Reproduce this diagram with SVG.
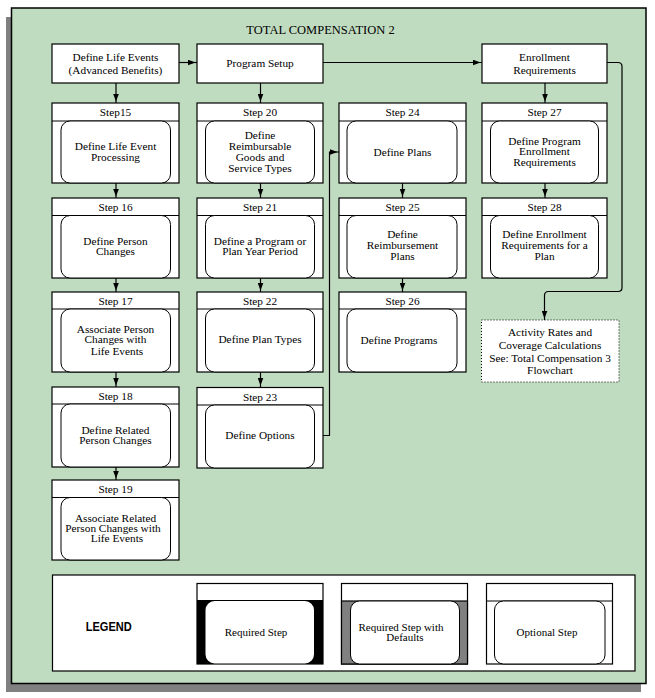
<svg xmlns="http://www.w3.org/2000/svg" width="655" height="698" viewBox="0 0 655 698">
<defs>
<style>
.box{fill:#fff;stroke:#000;stroke-width:1.2}
.inner{fill:#fff;stroke:#000;stroke-width:1}
.t{font-family:'Liberation Serif','Times New Roman',serif;font-size:11.3px;text-anchor:middle;fill:#000}
.lt{font-family:'Liberation Serif','Times New Roman',serif;font-size:11px;text-anchor:middle;fill:#000}
.conn{fill:none;stroke:#000;stroke-width:1.2}
</style>
<marker id="ah" viewBox="0 0 8 6" refX="9.5" refY="3" markerWidth="8" markerHeight="6" markerUnits="userSpaceOnUse" orient="auto">
<path d="M0,0 L8,3 L0,6 z" fill="#000"/>
</marker>
</defs>

<!-- frame -->
<rect x="6" y="17" width="635" height="675" fill="#808080"/>
<rect x="11.5" y="8" width="634.5" height="675.5" fill="#C0DCC0" stroke="#000" stroke-width="1.5"/>
<text x="320.5" y="34" font-family="Liberation Serif, serif" font-size="12.5px" text-anchor="middle">TOTAL COMPENSATION 2</text>

<!-- connectors -->
<g id="connectors" class="conn" marker-end="url(#ah)">
<path d="M179,62.5 H197"/>
<path d="M323,62.5 H482"/>
<path d="M116,83 V103"/>
<path d="M116,183 V198"/>
<path d="M116,278 V292"/>
<path d="M116,372 V387"/>
<path d="M116,467 V480"/>
<path d="M260.5,83 V103"/>
<path d="M260.5,183 V198"/>
<path d="M260.5,278 V292"/>
<path d="M260.5,372 V387"/>
<path d="M323,435.5 H329.5 V152 H339"/>
<path d="M402.5,183 V198"/>
<path d="M402.5,278 V292"/>
<path d="M545,83 V103"/>
<path d="M545,183 V198"/>
<path d="M607,62.5 H618 Q622,62.5 622,66.5 V287.5 Q622,291.5 618,291.5 H548.5 Q544.5,291.5 544.5,295.5 V320"/>
</g>

<g font-family="Liberation Serif, Times New Roman, serif">
<!-- top boxes -->
<g id="define-life-events">
<rect class="box" x="52" y="44" width="127" height="39"/>
<text class="t" x="115.5" y="60.5">Define Life Events</text>
<text class="t" x="115.5" y="74">(Advanced Benefits)</text>
</g>
<g id="program-setup">
<rect class="box" x="197" y="44" width="126" height="39"/>
<text class="t" x="260" y="66.5">Program Setup</text>
</g>
<g id="enrollment-requirements">
<rect class="box" x="482" y="44" width="125" height="39"/>
<text class="t" x="544.5" y="60.5">Enrollment</text>
<text class="t" x="544.5" y="74">Requirements</text>
</g>

<!-- column 1 -->
<g id="step15">
<rect class="box" x="52" y="103" width="127" height="80"/>
<line x1="52" y1="121" x2="179" y2="121" stroke="#000" stroke-width="1.2"/>
<rect class="inner" x="61" y="121" width="109.5" height="62" rx="9" ry="9"/>
<text class="t" x="115.5" y="116">Step15</text>
<text class="t" x="115.5" y="150">Define Life Event</text>
<text class="t" x="115.5" y="161">Processing</text>
</g>
<g id="step16">
<rect class="box" x="52" y="198" width="127" height="80"/>
<line x1="52" y1="215.5" x2="179" y2="215.5" stroke="#000" stroke-width="1.2"/>
<rect class="inner" x="61" y="215.5" width="109.5" height="62.5" rx="9" ry="9"/>
<text class="t" x="115.5" y="211">Step 16</text>
<text class="t" x="115.5" y="244.5">Define Person</text>
<text class="t" x="115.5" y="254.5">Changes</text>
</g>
<g id="step17">
<rect class="box" x="52" y="292" width="127" height="80"/>
<line x1="52" y1="309" x2="179" y2="309" stroke="#000" stroke-width="1.2"/>
<rect class="inner" x="61" y="309" width="109.5" height="63" rx="9" ry="9"/>
<text class="t" x="115.5" y="305">Step 17</text>
<text class="t" x="115.5" y="332.5">Associate Person</text>
<text class="t" x="115.5" y="343">Changes with</text>
<text class="t" x="117" y="354.5">Life Events</text>
</g>
<g id="step18">
<rect class="box" x="52" y="387" width="127" height="80"/>
<line x1="52" y1="404" x2="179" y2="404" stroke="#000" stroke-width="1.2"/>
<rect class="inner" x="61" y="404" width="109.5" height="63" rx="9" ry="9"/>
<text class="t" x="115.5" y="399.5">Step 18</text>
<text class="t" x="115.5" y="433.5">Define Related</text>
<text class="t" x="115.5" y="443.5">Person Changes</text>
</g>
<g id="step19">
<rect class="box" x="52" y="480" width="127" height="80"/>
<line x1="52" y1="497.5" x2="179" y2="497.5" stroke="#000" stroke-width="1.2"/>
<rect class="inner" x="61" y="497.5" width="109.5" height="62.5" rx="9" ry="9"/>
<text class="t" x="115.5" y="492.5">Step 19</text>
<text class="t" x="115.5" y="521.5">Associate Related</text>
<text class="t" x="113" y="531.5">Person Changes with</text>
<text class="t" x="117" y="542">Life Events</text>
</g>

<!-- column 2 -->
<g id="step20">
<rect class="box" x="197" y="103" width="126" height="80"/>
<line x1="197" y1="121" x2="323" y2="121" stroke="#000" stroke-width="1.2"/>
<rect class="inner" x="205.5" y="121" width="109" height="62" rx="9" ry="9"/>
<text class="t" x="260" y="116">Step 20</text>
<text class="t" x="260" y="138.5">Define</text>
<text class="t" x="260" y="149.5">Reimbursable</text>
<text class="t" x="260" y="160.5">Goods and</text>
<text class="t" x="260" y="171.5">Service Types</text>
</g>
<g id="step21">
<rect class="box" x="197" y="198" width="126" height="80"/>
<line x1="197" y1="215.5" x2="323" y2="215.5" stroke="#000" stroke-width="1.2"/>
<rect class="inner" x="205.5" y="215.5" width="109" height="62.5" rx="9" ry="9"/>
<text class="t" x="260" y="211">Step 21</text>
<text class="t" x="260" y="244.5">Define a Program or</text>
<text class="t" x="260" y="254.5">Plan Year Period</text>
</g>
<g id="step22">
<rect class="box" x="197" y="292" width="126" height="80"/>
<line x1="197" y1="309" x2="323" y2="309" stroke="#000" stroke-width="1.2"/>
<rect class="inner" x="205.5" y="309" width="109" height="63" rx="9" ry="9"/>
<text class="t" x="260" y="305">Step 22</text>
<text class="t" x="260" y="343">Define Plan Types</text>
</g>
<g id="step23">
<rect class="box" x="197" y="387.5" width="126" height="80.5"/>
<line x1="197" y1="405" x2="323" y2="405" stroke="#000" stroke-width="1.2"/>
<rect class="inner" x="205.5" y="405" width="109" height="63" rx="9" ry="9"/>
<text class="t" x="260" y="400.5">Step 23</text>
<text class="t" x="260" y="439">Define Options</text>
</g>

<!-- column 3 -->
<g id="step24">
<rect class="box" x="339" y="103" width="127" height="80"/>
<line x1="339" y1="121" x2="466" y2="121" stroke="#000" stroke-width="1.2"/>
<rect class="inner" x="347" y="121" width="110" height="62" rx="9" ry="9"/>
<text class="t" x="402.5" y="116">Step 24</text>
<text class="t" x="402.5" y="155.5">Define Plans</text>
</g>
<g id="step25">
<rect class="box" x="339" y="198" width="127" height="80"/>
<line x1="339" y1="215.5" x2="466" y2="215.5" stroke="#000" stroke-width="1.2"/>
<rect class="inner" x="347" y="215.5" width="110" height="62.5" rx="9" ry="9"/>
<text class="t" x="402.5" y="211">Step 25</text>
<text class="t" x="402.5" y="238">Define</text>
<text class="t" x="402.5" y="249">Reimbursement</text>
<text class="t" x="402.5" y="260">Plans</text>
</g>
<g id="step26">
<rect class="box" x="339" y="292" width="127" height="80"/>
<line x1="339" y1="309" x2="466" y2="309" stroke="#000" stroke-width="1.2"/>
<rect class="inner" x="347" y="309" width="110" height="63" rx="9" ry="9"/>
<text class="t" x="402.5" y="305">Step 26</text>
<text class="t" x="399" y="343.5">Define Programs</text>
</g>

<!-- column 4 -->
<g id="step27">
<rect class="box" x="482" y="103" width="125" height="80"/>
<line x1="482" y1="121" x2="607" y2="121" stroke="#000" stroke-width="1.2"/>
<rect class="inner" x="490.5" y="121" width="108" height="62" rx="9" ry="9"/>
<text class="t" x="544.5" y="116">Step 27</text>
<text class="t" x="544.5" y="144.5">Define Program</text>
<text class="t" x="544.5" y="155">Enrollment</text>
<text class="t" x="544.5" y="165.5">Requirements</text>
</g>
<g id="step28">
<rect class="box" x="482" y="198" width="125" height="80"/>
<line x1="482" y1="215.5" x2="607" y2="215.5" stroke="#000" stroke-width="1.2"/>
<rect class="inner" x="490.5" y="215.5" width="108" height="62.5" rx="9" ry="9"/>
<text class="t" x="544.5" y="211">Step 28</text>
<text class="t" x="544.5" y="238">Define Enrollment</text>
<text class="t" x="544.5" y="249">Requirements for a</text>
<text class="t" x="544.5" y="260">Plan</text>
</g>

<g id="activity-rates">
<rect x="481.5" y="320" width="137.5" height="62" fill="#fff" stroke="#000" stroke-width="1" stroke-dasharray="1,2"/>
<text class="t" x="550" y="335.5">Activity Rates and</text>
<text class="t" x="550" y="348.5">Coverage Calculations</text>
<text class="t" x="550" y="361.5">See: Total Compensation 3</text>
<text class="t" x="550" y="373.5">Flowchart</text>
</g>

<!-- legend -->
<g id="legend">
<rect x="52.5" y="575" width="582.5" height="96" fill="#fff" stroke="#000" stroke-width="1.2"/>
<text x="108.7" y="631" font-family="Liberation Sans, Arial, sans-serif" font-size="12px" font-weight="bold" text-anchor="middle" textLength="46" lengthAdjust="spacingAndGlyphs">LEGEND</text>
</g>
<g id="legend-required">
<rect x="197" y="583.5" width="126" height="80.5" fill="#fff" stroke="#000" stroke-width="1.2"/>
<rect x="197" y="600" width="126" height="64" fill="#000"/>
<rect x="205.5" y="601" width="108.5" height="62.5" rx="9" ry="9" fill="#fff"/>
<text class="lt" x="256" y="635.5">Required Step</text>
</g>
<g id="legend-defaults">
<rect x="341.5" y="583.5" width="126" height="80.5" fill="#fff" stroke="#000" stroke-width="1.2"/>
<rect x="341.5" y="601" width="126" height="63" fill="#808080" stroke="#000" stroke-width="1.2"/>
<rect class="inner" x="350.5" y="601" width="109" height="63" rx="9" ry="9"/>
<text class="lt" x="401" y="630.5">Required Step with</text>
<text class="lt" x="405" y="640.5">Defaults</text>
</g>
<g id="legend-optional">
<rect x="486.5" y="583.5" width="126" height="80.5" fill="#fff" stroke="#000" stroke-width="1.2"/>
<line x1="486.5" y1="601" x2="612.5" y2="601" stroke="#000" stroke-width="1.2"/>
<rect class="inner" x="494.5" y="601" width="110.5" height="63" rx="9" ry="9"/>
<text class="lt" x="547" y="635.5">Optional Step</text>
</g>
</g>
</svg>
